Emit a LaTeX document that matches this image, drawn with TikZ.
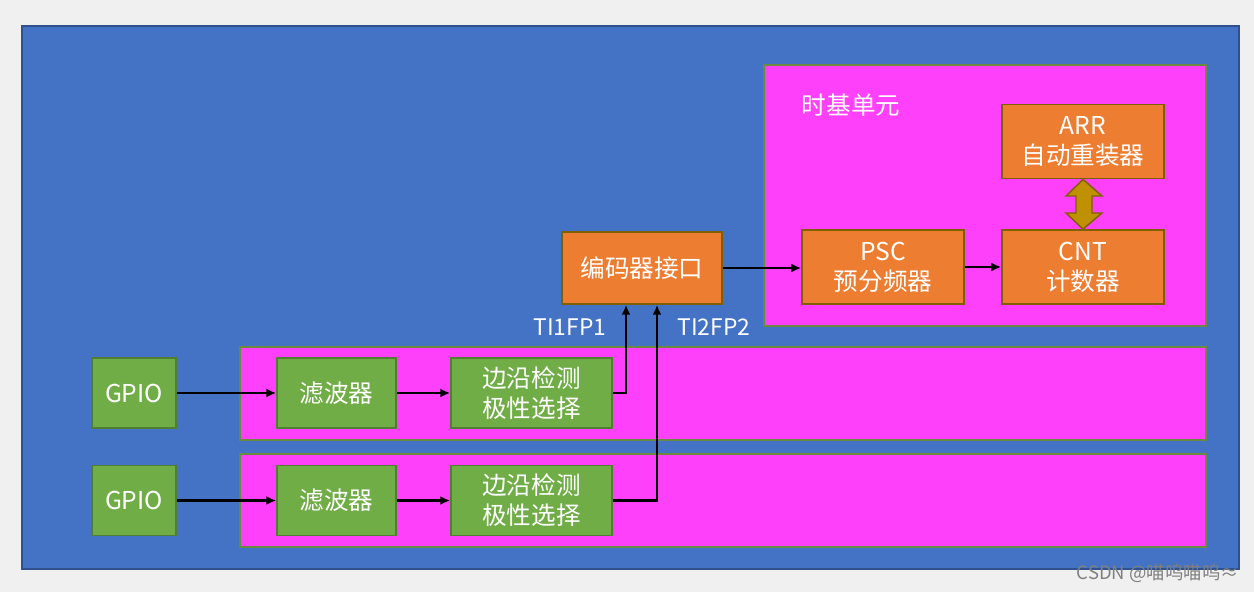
\documentclass[tikz,border=0pt]{standalone}
\usepackage{fontspec}
\setmainfont{Noto Sans CJK SC}
\usetikzlibrary{arrows.meta}

\definecolor{bgGray}{HTML}{F0F0F0}
\definecolor{panelBlue}{HTML}{4472C4}
\definecolor{panelEdge}{HTML}{2F528F}
\definecolor{unitPink}{HTML}{FF40FA}
\definecolor{unitEdge}{HTML}{6A8A40}
\definecolor{regOrange}{HTML}{ED7D31}
\definecolor{regEdge}{HTML}{7F6000}
\definecolor{chanGreen}{HTML}{70AD47}
\definecolor{chanEdge}{HTML}{507E32}
\definecolor{linkGold}{HTML}{BF9000}

\tikzset{
    reg/.style={draw=regEdge, line width=1pt, fill=regOrange, text=white,
        align=center, font=\fontsize{14}{17}\selectfont,
        minimum width=3.24cm, minimum height=1.48cm, inner sep=0pt},
    chan/.style={draw=chanEdge, line width=1pt, fill=chanGreen, text=white,
        align=center, font=\fontsize{14}{17}\selectfont,
        minimum height=1.4cm, inner sep=0pt},
    unit/.style={draw=unitEdge, line width=1pt, fill=unitPink},
    sig/.style={line width=1.6pt, -{Latex[length=5.5pt, width=5pt]}}
}

\begin{document}
\begin{tikzpicture}[x=0.02cm, y=-0.02cm]
    % Canvas
    \fill[bgGray] (0,0) rectangle (1254,592);
    \useasboundingbox (0,0) rectangle (1254,592);
    \draw[panelEdge, line width=1.2pt, fill=panelBlue] (22,26) rectangle (1239,569);

    % Time base unit
    \draw[unit] (764,65) rectangle (1206,326);
    \node[text=white, font=\fontsize{14}{16}\selectfont] (tbu) at (851,105) {时基单元};
    \node[reg] (arr) at (1083,141.5) {ARR\\自动重装器};
    \node[reg] (cnt) at (1083,267) {CNT\\计数器};
    \node[reg] (psc) at (883,267) {PSC\\预分频器};
    \node[reg, minimum width=3.2cm, minimum height=1.44cm] (enc) at (642,268) {编码器接口};

    % Reload link
    \draw[regEdge, line width=0.8pt, fill=linkGold]
        (arr.south) -- (1102,196) -- (1092,196) -- (1092,213) -- (1102,213)
        -- (cnt.north) -- (1066,213) -- (1076,213) -- (1076,196) -- (1066,196) -- cycle;

    % Input channels
    \draw[unit] (240,347) rectangle (1206,440);
    \draw[unit] (240,454) rectangle (1206,547);
    \node[chan, minimum width=1.68cm] (gpioA) at (134,393) {GPIO};
    \node[chan, minimum width=2.38cm] (filtA) at (336.5,393) {滤波器};
    \node[chan, minimum width=3.22cm] (edgeA) at (531.5,393) {边沿检测\\极性选择};
    \node[chan, minimum width=1.68cm] (gpioB) at (134,500.5) {GPIO};
    \node[chan, minimum width=2.38cm] (filtB) at (336.5,500.5) {滤波器};
    \node[chan, minimum width=3.22cm] (edgeB) at (531.5,500.5) {边沿检测\\极性选择};

    % Signal paths
    \draw[sig] (gpioA) -- (filtA);
    \draw[sig] (filtA) -- (edgeA);
    \draw[sig] (gpioB) -- (filtB);
    \draw[sig] (filtB) -- (edgeB);
    \draw[sig] (edgeA.east) -| ([xshift=-0.32cm]enc.south);
    \draw[sig] (edgeB.east) -| ([xshift=0.3cm]enc.south);
    \draw[sig] (enc.east) -- (enc.east -| psc.west);
    \draw[sig] (psc) -- (cnt);

    \node[text=white, font=\fontsize{13}{15}\selectfont] (ti1) at (570,327) {TI1FP1};
    \node[text=white, font=\fontsize{13}{15}\selectfont] (ti2) at (714,327) {TI2FP2};

    % Watermark
    \node[text=gray, font=\fontsize{10.5}{12}\selectfont] (wmark) at (1158,573) {CSDN @喵呜喵呜≈};
\end{tikzpicture}
\end{document}
